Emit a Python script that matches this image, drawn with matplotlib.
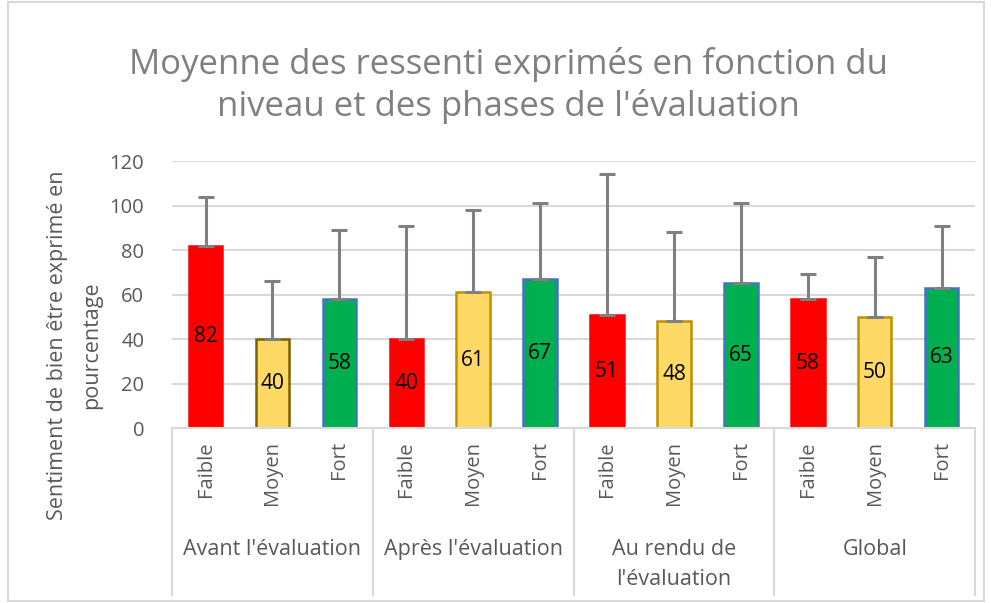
import matplotlib
matplotlib.use('Agg')
import matplotlib.pyplot as plt
from matplotlib.patches import Rectangle
import numpy as np

plt.rcParams['font.family'] = ['Open Sans', 'DejaVu Sans']

# Data
phases = ["Avant l'évaluation", "Après l'évaluation", "Au rendu de\nl'évaluation", "Global"]
levels = ["Faible", "Moyen", "Fort"]
means = [82, 40, 58, 40, 61, 67, 51, 48, 65, 58, 50, 63]
errors = [22, 26, 31, 51, 37, 34, 63, 40, 36, 11, 27, 28]

fill_colors = {"Faible": "#FF0000", "Moyen": "#FFD966", "Fort": "#00B050"}
edge_colors = ["#FF0000", "#7F6000", "#4472C4",
               "#FF0000", "#BF9000", "#4472C4",
               "#FF0000", "#BF9000", "#4472C4",
               "#FF0000", "#BF9000", "#4472C4"]

grid_col = "#D9D9D9"
text_col = "#595959"

fig = plt.figure(figsize=(9.91, 6.03), dpi=100)
ax = fig.add_axes([0.1736, 0.2902, 0.8104, 0.4428])

x = np.arange(len(means))
cols = [fill_colors[levels[i % 3]] for i in x]
ax.bar(x, means, width=0.5, color=cols, edgecolor=edge_colors, linewidth=1.8, zorder=2)
ax.errorbar(x, means, yerr=[np.zeros(len(errors)), errors], fmt='none',
            ecolor="#808080", elinewidth=2.2, capsize=5.5, capthick=2.2, zorder=3)

for xi, v in zip(x, means):
    ax.text(xi, v / 2, str(v), ha='center', va='center', fontsize=15, color='black', zorder=4)

ax.set_xlim(-0.5, len(means) - 0.5)
ax.set_ylim(0, 120)
ax.set_yticks(range(0, 121, 20))
ax.yaxis.grid(True, color=grid_col, linewidth=1.5, zorder=0)
ax.set_axisbelow(True)
ax.tick_params(axis='y', length=0, labelsize=14.5, labelcolor=text_col, pad=20)
ax.set_xticks([])
for s in ['top', 'right', 'left']:
    ax.spines[s].set_visible(False)
ax.spines['bottom'].set_color(grid_col)
ax.spines['bottom'].set_linewidth(1.5)

# Two-level category axis
trans = ax.get_xaxis_transform()
for b in [-0.5, 2.5, 5.5, 8.5, 11.5]:
    ax.plot([b, b], [0, -0.625], color=grid_col, lw=1.5, transform=trans, clip_on=False)
for xi in x:
    ax.text(xi, -0.05, levels[xi % 3], rotation=90, ha='center', va='top',
            fontsize=14.5, color=text_col, transform=trans)
for gi, name in enumerate(phases):
    ax.text(gi * 3 + 1, -0.415, name, ha='center', va='top', fontsize=15.5,
            color=text_col, transform=trans, linespacing=1.55)

# y-axis title, two centred lines
fig.text(0.058, 0.428, "Sentiment de bien être exprimé en", rotation=90,
         ha='center', va='center', fontsize=15.5, color=text_col)
fig.text(0.092, 0.428, "pourcentage", rotation=90,
         ha='center', va='center', fontsize=15.5, color=text_col)

fig.text(0.513, 0.858, "Moyenne des ressenti exprimés en fonction du\nniveau et des phases de l'évaluation",
         ha='center', va='center', fontsize=25, color="#808080", linespacing=1.25)

fig.patches.append(Rectangle((0.008, 0.003), 0.985, 0.994, transform=fig.transFigure,
                             fill=False, edgecolor=grid_col, lw=1.5))

fig.savefig('out.png', dpi=100)
